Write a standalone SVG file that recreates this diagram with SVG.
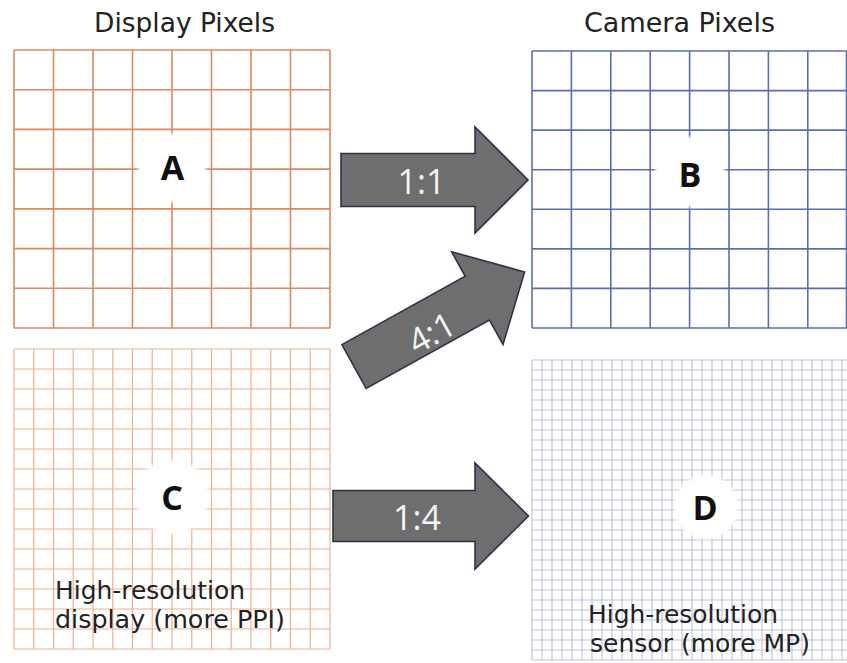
<svg xmlns="http://www.w3.org/2000/svg" width="847" height="663" viewBox="0 0 847 663">
<style>
.title{font-family:"DejaVu Sans","Verdana",sans-serif;font-size:26px;fill:#222}
.note{font-family:"DejaVu Sans","Verdana",sans-serif;font-size:24px;fill:#222}
.letter{font-family:"Open Sans","Liberation Sans",sans-serif;font-weight:700;font-size:34px;fill:#111;text-anchor:middle}
.ratio{font-family:"Open Sans","Liberation Sans",sans-serif;font-weight:400;font-size:34px;fill:#f4f4f4;text-anchor:middle}
.arrow{fill:#6e6e6e;stroke:#2b3346;stroke-width:1.6;stroke-linejoin:miter}
.ga{fill:none;stroke:#d98a63;stroke-width:1.6}
.gb{fill:none;stroke:#5b6fae;stroke-width:1.6}
.gc{fill:none;stroke:#eeb193;stroke-width:1.2}
.gd{fill:none;stroke:#c0c6da;stroke-width:1.2}
.blob{fill:#fff;filter:url(#soft)}
</style>
<defs>
<filter id="soft" x="-30%" y="-30%" width="160%" height="160%"><feGaussianBlur stdDeviation="1.5"/></filter>
<path id="arr" d="M0,-26.5 H134 V-53 L187,0 L134,53 V26.5 H0 Z"/>
</defs>
<rect width="847" height="663" fill="#fff"/>
<text class="title" x="94" y="32" textLength="181" lengthAdjust="spacingAndGlyphs">Display Pixels</text>
<text class="title" x="584" y="32" textLength="191" lengthAdjust="spacingAndGlyphs">Camera Pixels</text>

<g id="gridA">
<path class="ga" d="M14 50V328M53.5 50V328M93 50V328M132.5 50V328M172 50V328M211.5 50V328M251 50V328M290.5 50V328M330 50V328M14 50H330M14 89.7H330M14 129.4H330M14 169.1H330M14 208.9H330M14 248.6H330M14 288.3H330M14 328H330"/>
<circle class="blob" cx="172" cy="168" r="34"/>
<text class="letter" x="172.5" y="180">A</text>
</g>

<g id="gridB">
<path class="gb" d="M532 51V328M571.4 51V328M610.8 51V328M650.2 51V328M689.6 51V328M729 51V328M768.4 51V328M807.8 51V328M846.5 51V328M532 51H847M532 90.6H847M532 130.1H847M532 169.7H847M532 209.3H847M532 248.9H847M532 288.4H847M532 328H847"/>
<circle class="blob" cx="690" cy="172" r="35"/>
<text class="letter" x="690" y="187">B</text>
</g>

<g id="gridC">
<path class="gc" d="M14 349V649M33.75 349V649M53.5 349V649M73.25 349V649M93 349V649M112.75 349V649M132.5 349V649M152.25 349V649M172 349V649M191.75 349V649M211.5 349V649M231.25 349V649M251 349V649M270.75 349V649M290.5 349V649M310.25 349V649M330 349V649M14 349H330M14 369H330M14 389H330M14 409H330M14 429H330M14 449H330M14 469H330M14 489H330M14 509H330M14 529H330M14 549H330M14 569H330M14 589H330M14 609H330M14 629H330M14 649H330"/>
<circle class="blob" cx="172" cy="497" r="37"/>
<text class="letter" x="172" y="510">C</text>
<text class="note" x="55" y="599" textLength="190" lengthAdjust="spacingAndGlyphs">High-resolution</text>
<text class="note" x="55" y="628" textLength="230" lengthAdjust="spacingAndGlyphs">display (more PPI)</text>
</g>

<g id="gridD">
<path class="gd" d="M532 360V660M542 360V660M552 360V660M562 360V660M572 360V660M582 360V660M592 360V660M602 360V660M612 360V660M622 360V660M632 360V660M642 360V660M652 360V660M662 360V660M672 360V660M682 360V660M692 360V660M702 360V660M712 360V660M722 360V660M732 360V660M742 360V660M752 360V660M762 360V660M772 360V660M782 360V660M792 360V660M802 360V660M812 360V660M822 360V660M832 360V660M842 360V660M532 360H847M532 370H847M532 380H847M532 390H847M532 400H847M532 410H847M532 420H847M532 430H847M532 440H847M532 450H847M532 460H847M532 470H847M532 480H847M532 490H847M532 500H847M532 510H847M532 520H847M532 530H847M532 540H847M532 550H847M532 560H847M532 570H847M532 580H847M532 590H847M532 600H847M532 610H847M532 620H847M532 630H847M532 640H847M532 650H847M532 660H847"/>
<circle class="blob" cx="706" cy="507" r="32"/>
<text class="letter" x="705" y="520">D</text>
<text class="note" x="588" y="623" textLength="190" lengthAdjust="spacingAndGlyphs">High-resolution</text>
<text class="note" x="590" y="652" textLength="220" lengthAdjust="spacingAndGlyphs">sensor (more MP)</text>
</g>

<g id="connectors">
<g id="arrow-1-1">
<use href="#arr" class="arrow" transform="translate(341,180)"/>
<text class="ratio" x="421.5" y="194">1:1</text>
</g>
<g id="arrow-4-1">
<path class="arrow" d="M0,-25 H141 V-53 L195,0 L141,53 V25 H0 Z" transform="translate(354,366.5) rotate(-29)"/>
<text class="ratio" transform="translate(431.7,333) rotate(-29)" x="0" y="12">4:1</text>
</g>
<g id="arrow-1-4">
<path class="arrow" d="M0,-25.5 H142 V-53 L195.5,0 L142,53 V25.5 H0 Z" transform="translate(333,516)"/>
<text class="ratio" x="417" y="530">1:4</text>
</g>
</g>
</svg>
